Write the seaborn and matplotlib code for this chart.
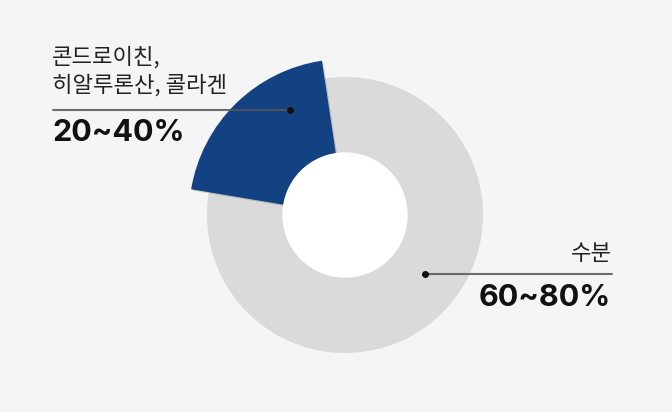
import numpy as np
import matplotlib
matplotlib.use('Agg')
import matplotlib.pyplot as plt
import matplotlib.patheffects as pe
import seaborn as sns

# ---- data ----
labels = ['콘드로이친,\n히알루론산, 콜라겐', '수분']
ranges = ['20~40%', '60~80%']
shares = [20, 80]
colors = ['#134283', '#dadada']

sns.set_theme(style='white')
plt.rcParams['font.family'] = ['Noto Sans CJK KR', 'DejaVu Sans']

W, H = 672, 412
fig = plt.figure(figsize=(W / 100, H / 100), dpi=100, facecolor='#f5f5f5')
ax = fig.add_axes([0, 0, 1, 1])
ax.set_aspect('equal')

cx, cy = 345, H - 215
r_out, r_in, r_hi = 138, 62, 156

# grey ring (both parts), then highlighted wedge drawn larger on top
ring, _ = ax.pie(shares, colors=['#dadada', colors[1]], startangle=98.5,
                 radius=r_out, center=(cx, cy), frame=True,
                 wedgeprops=dict(width=r_out - r_in, linewidth=0))
hi, _ = ax.pie(shares, colors=colors, startangle=98.5,
               radius=r_hi, center=(cx, cy), frame=True,
               wedgeprops=dict(width=r_hi - r_in, linewidth=0))
hi[1].set_visible(False)
hi[0].set_path_effects([pe.SimplePatchShadow(offset=(1, -1), shadow_rgbFace='#000000', alpha=0.15),
                        pe.Normal()])
ax.add_patch(plt.Circle((cx, cy), r_in, color='white', zorder=3))
ax.set_xlim(0, W)
ax.set_ylim(0, H)
ax.axis('off')

line_kw = dict(color='#555555', lw=1.5, alpha=0.85, zorder=4)
dot_kw = dict(color='#111111', s=16, zorder=5)

# left annotation
ax.plot([53, 290], [H - 110, H - 110], **line_kw)
ax.scatter([290], [H - 110], **dot_kw)
ax.text(52, H - 71, labels[0], fontsize=16, color='#222222', ha='left', va='center',
        linespacing=1.3)
ax.text(52, H - 133, ranges[0], fontsize=22, fontweight='bold', color='#111111',
        ha='left', va='center', family=['Inter', 'Noto Sans CJK KR'])

# right annotation
ax.plot([425, 612], [H - 274, H - 274], **line_kw)
ax.scatter([425], [H - 274], **dot_kw)
ax.text(612, H - 253, labels[1], fontsize=16, color='#222222', ha='right', va='center')
ax.text(611, H - 298, ranges[1], fontsize=22, fontweight='bold', color='#111111',
        ha='right', va='center', family=['Inter', 'Noto Sans CJK KR'])

fig.savefig('out.png', dpi=100, facecolor='#f5f5f5')
